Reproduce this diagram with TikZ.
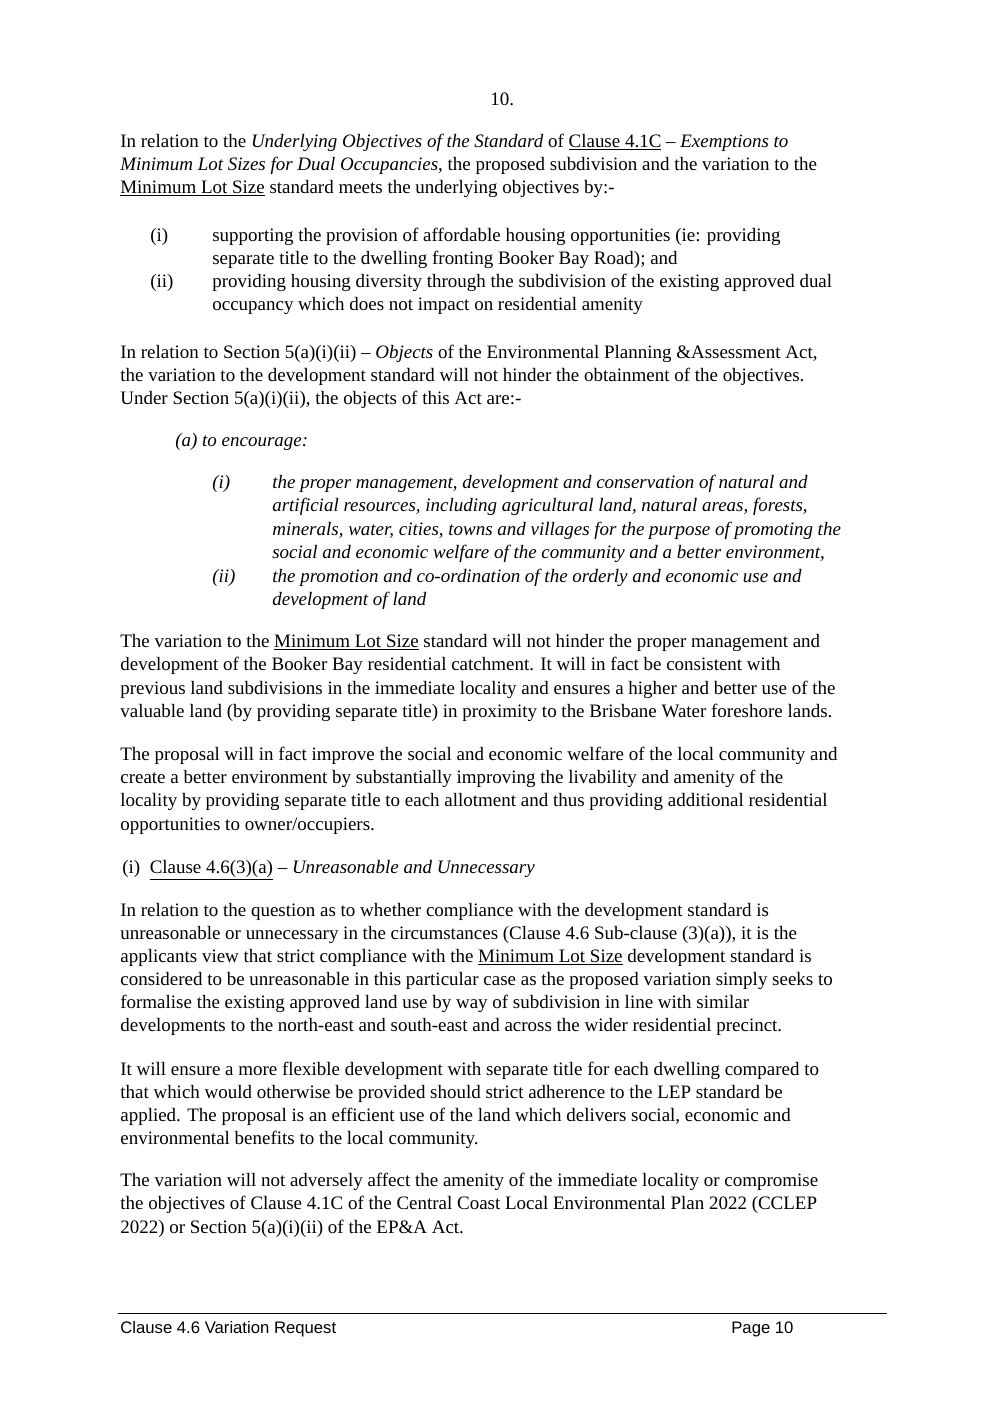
\documentclass[tikz,border=0pt]{standalone}
\usepackage{fontspec}
\setmainfont{Liberation Serif}
\newfontfamily\footfont{Liberation Sans}
\newcommand{\bodysize}{\fontsize{10.8}{13}\selectfont}
\begin{document}
\begin{tikzpicture}[x=0.02cm, y=-0.02cm,
  txt/.style={anchor=base west, inner sep=0pt, font=\bodysize},
  foot/.style={anchor=base west, inner sep=0pt, font=\footfont\fontsize{9.5}{11}\selectfont}]
\useasboundingbox (0,0) rectangle (1004,1420);
\node[txt] (pg) at (490,105) {10.};
% first paragraph
\node[txt] (p1a) at (120,147) {In relation to the \emph{Underlying Objectives of the Standard} of \underline{Clause 4.1C} -- \emph{Exemptions to}};
\node[txt] (p1b) at (120,170) {\emph{Minimum Lot Sizes for Dual Occupancies}, the proposed subdivision and the variation to the};
\node[txt] (p1c) at (120,193) {\underline{Minimum Lot Size} standard meets the underlying objectives by:-};
\node[txt] (i1) at (150,241) {(i)};
\node[txt] (i1a) at (212,241) {supporting the provision of affordable housing opportunities (ie: providing};
\node[txt] (i1b) at (212,264) {separate title to the dwelling fronting Booker Bay Road); and};
\node[txt] (i2) at (150,287) {(ii)};
\node[txt] (i2a) at (212,287) {providing housing diversity through the subdivision of the existing approved dual};
\node[txt] (i2b) at (212,310) {occupancy which does not impact on residential amenity};
% objects of the act
\node[txt] (p2a) at (120,358) {In relation to Section 5(a)(i)(ii) -- \emph{Objects} of the Environmental Planning \&Assessment Act,};
\node[txt] (p2b) at (120,381) {the variation to the development standard will not hinder the obtainment of the objectives.};
\node[txt] (p2c) at (120,404) {Under Section 5(a)(i)(ii), the objects of this Act are:-};
\node[txt] (a) at (175,446) {\emph{(a) to encourage:}};
\node[txt] (ai) at (212,488) {\emph{(i)}};
\node[txt] (ai1) at (272,488) {\emph{the proper management, development and conservation of natural and}};
\node[txt] (ai2) at (272,511) {\emph{artificial resources, including agricultural land, natural areas, forests,}};
\node[txt] (ai3) at (272,535) {\emph{minerals, water, cities, towns and villages for the purpose of promoting the}};
\node[txt] (ai4) at (272,558) {\emph{social and economic welfare of the community and a better environment,}};
\node[txt] (aii) at (212,582) {\emph{(ii)}};
\node[txt] (aii1) at (272,582) {\emph{the promotion and co-ordination of the orderly and economic use and}};
\node[txt] (aii2) at (272,605) {\emph{development of land}};
% variation
\node[txt] (p3a) at (120,647) {The variation to the \underline{Minimum Lot Size} standard will not hinder the proper management and};
\node[txt] (p3b) at (120,670) {development of the Booker Bay residential catchment. It will in fact be consistent with};
\node[txt] (p3c) at (120,694) {previous land subdivisions in the immediate locality and ensures a higher and better use of the};
\node[txt] (p3d) at (120,717) {valuable land (by providing separate title) in proximity to the Brisbane Water foreshore lands.};
\node[txt] (p4a) at (120,760) {The proposal will in fact improve the social and economic welfare of the local community and};
\node[txt] (p4b) at (120,783) {create a better environment by substantially improving the livability and amenity of the};
\node[txt] (p4c) at (120,806) {locality by providing separate title to each allotment and thus providing additional residential};
\node[txt] (p4d) at (120,830) {opportunities to owner/occupiers.};
% clause 4.6(3)(a)
\node[txt] (h1) at (122,873) {(i)\enspace\underline{Clause 4.6(3)(a)} -- \emph{Unreasonable and Unnecessary}};
\node[txt] (p5a) at (120,916) {In relation to the question as to whether compliance with the development standard is};
\node[txt] (p5b) at (120,939) {unreasonable or unnecessary in the circumstances (Clause 4.6 Sub-clause (3)(a)), it is the};
\node[txt] (p5c) at (120,962) {applicants view that strict compliance with the \underline{Minimum Lot Size} development standard is};
\node[txt] (p5d) at (120,985) {considered to be unreasonable in this particular case as the proposed variation simply seeks to};
\node[txt] (p5e) at (120,1008) {formalise the existing approved land use by way of subdivision in line with similar};
\node[txt] (p5f) at (120,1031) {developments to the north-east and south-east and across the wider residential precinct.};
\node[txt] (p6a) at (120,1075) {It will ensure a more flexible development with separate title for each dwelling compared to};
\node[txt] (p6b) at (120,1098) {that which would otherwise be provided should strict adherence to the LEP standard be};
\node[txt] (p6c) at (120,1121) {applied. The proposal is an efficient use of the land which delivers social, economic and};
\node[txt] (p6d) at (120,1144) {environmental benefits to the local community.};
\node[txt] (p7a) at (120,1186) {The variation will not adversely affect the amenity of the immediate locality or compromise};
\node[txt] (p7b) at (120,1209) {the objectives of Clause 4.1C of the Central Coast Local Environmental Plan 2022 (CCLEP};
\node[txt] (p7c) at (120,1233) {2022) or Section 5(a)(i)(ii) of the EP\&A Act.};
% footer
\coordinate (fl) at (118,1313);
\coordinate (fr) at (887,1313);
\draw[line width=0.5pt] (fl) -- (fr);
\node[foot] (ft1) at (120,1333) {Clause 4.6 Variation Request};
\node[foot] (ft2) at (731,1333) {Page 10};
\end{tikzpicture}
\end{document}
